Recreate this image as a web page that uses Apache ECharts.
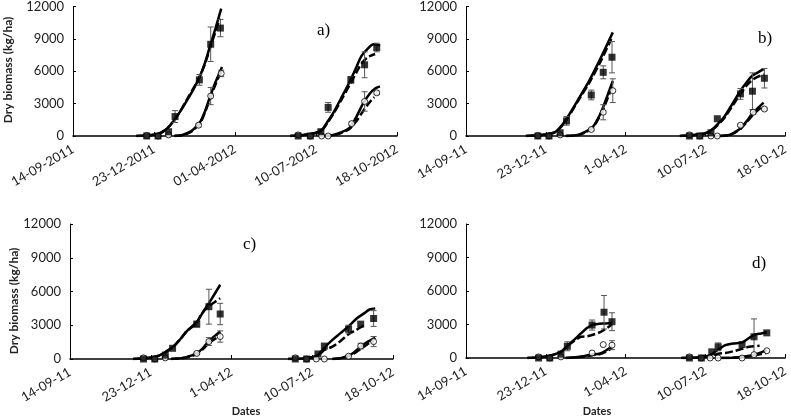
<!DOCTYPE html>
<html>
<head>
<meta charset="utf-8">
<script src="https://cdn.jsdelivr.net/npm/echarts@6/dist/echarts.min.js"></script>
<style>
  html, body { margin: 0; background: #fff; }
  #main { width: 791px; height: 417px; }
</style>
</head>
<body>
<div id="main"></div>
<script>
// x values are days counted from 14-09-2011
const tickDays = [0, 100, 200, 300, 400];
const tickLabelsLong = ["14-09-2011", "23-12-2011", "01-04-2012", "10-07-2012", "18-10-2012"];
const tickLabelsShort = ["14-09-11", "23-12-11", "1-04-12", "10-07-12", "18-10-12"];

// observed points: [day, mean, error]
const aSquares = [[91,0,0],[105,0,0],[118,400,0],[126,1800,550],[156,5200,500],[170,8500,1600],[182,10000,800],
  [278,0,0],[293,0,0],[306,400,0],[315,2650,450],[343,5200,300],[360,6600,1200],[375,8200,400]];
const aCircles = [[91,50,0],[105,0,0],[118,100,0],[155,1000,150],[170,3700,800],[183,5800,300],
  [278,100,0],[293,0,0],[307,0,0],[315,0,0],[344,1150,150],[360,3200,900],[375,4000,150]];
const bSquares = [[90,0,0],[104,0,0],[118,300,0],[126,1400,400],[157,3800,450],[172,5900,600],[183,7300,1450],
  [280,0,0],[293,0,0],[307,300,0],[315,1600,0],[344,3900,500],[359,4150,1700],[374,5350,900]];
const bCircles = [[90,50,0],[104,0,0],[118,100,0],[157,600,100],[172,2200,700],[184,4200,1100],
  [280,100,0],[293,0,0],[307,0,0],[315,0,0],[344,1000,100],[360,2200,200],[374,2500,100]];
const cSquares = [[91,0,0],[105,0,0],[118,350,0],[127,950,0],[157,3100,250],[172,4650,1550],[186,4000,950],
  [279,0,0],[293,0,0],[307,450,0],[315,1150,0],[345,2650,350],[360,3100,0],[376,3600,700]];
const cCircles = [[91,100,0],[105,0,0],[118,100,0],[157,500,100],[172,1550,350],[186,2000,500],
  [279,100,0],[293,0,0],[305,0,0],[315,0,0],[345,250,0],[360,1150,250],[376,1550,450]];
const dSquares = [[91,0,0],[105,0,0],[119,350,0],[127,1050,400],[158,2950,450],[173,4100,1500],[183,3250,800],
  [280,0,0],[295,0,0],[308,550,0],[316,1000,350],[346,1200,0],[361,1900,1600],[377,2250,0]];
const dCircles = [[91,100,0],[105,0,0],[119,100,0],[158,450,0],[172,1200,0],[183,1150,400],
  [280,100,0],[295,0,0],[306,0,0],[316,0,0],[346,0,0],[361,300,0],[377,650,0]];

// simulated curves, one array per season: [day, biomass]
const aHiSolid1 = [[78,0],[95,80],[105,200],[112,450],[120,1000],[130,2000],[140,3200],[150,4500],[157,5600],[163,6800],[169,8300],[176,10000],[183,11800]];
const aHiDash1 = [[78,0],[95,80],[105,200],[112,450],[120,1000],[130,2000],[140,3300],[150,4600],[157,5600],[163,6700],[169,8100],[176,9700],[181,10900]];
const aLoSolid1 = [[125,0],[135,100],[145,400],[150,700],[157,1300],[163,2300],[169,3600],[176,5000],[184,6400]];
const aLoDash1 = [[125,0],[135,80],[145,350],[150,650],[157,1200],[163,2200],[169,3400],[176,4800],[183,6000]];
const aHiSolid2 = [[268,0],[285,100],[298,250],[307,550],[314,1300],[321,2100],[331,3500],[342,5100],[350,6400],[356,7400],[364,8100],[371,8500],[379,8400]];
const aHiDash2 = [[268,0],[285,100],[298,250],[307,500],[314,1200],[321,2000],[331,3300],[342,4800],[350,5900],[356,6700],[364,7300],[373,7600]];
const aLoSolid2 = [[310,0],[320,80],[330,300],[342,800],[350,1800],[358,3000],[366,3900],[373,4400],[379,4600]];
const aLoDash2 = [[310,0],[320,60],[330,250],[342,700],[350,1400],[358,2300],[366,3100],[372,3600]];

const bHiSolid1 = [[75,0],[95,100],[110,300],[118,800],[126,1600],[140,3300],[155,5200],[170,7400],[184,9600]];
const bHiDash1 = [[75,0],[95,100],[110,300],[118,750],[126,1500],[140,3200],[155,5000],[170,7100],[182,9000]];
const bLoSolid1 = [[125,0],[140,100],[150,400],[159,850],[166,1700],[172,2700],[178,3900],[184,5100]];
const bLoDash1 = [[125,0],[140,80],[150,350],[159,800],[166,1600],[172,2500],[178,3600],[183,4600]];
const bHiSolid2 = [[268,0],[285,100],[300,250],[310,700],[318,1300],[324,1800],[334,3000],[344,4200],[352,5000],[359,5600],[366,5900],[373,6200]];
const bHiDash2 = [[268,0],[285,100],[300,250],[310,650],[318,1200],[324,1700],[334,2800],[344,3900],[352,4700],[359,5200],[366,5500],[374,5700]];
const bLoSolid2 = [[318,0],[330,100],[338,400],[344,700],[352,1400],[359,2100],[366,2600],[373,3100]];
const bLoDash2 = [[318,0],[330,80],[338,350],[344,650],[352,1300],[359,1900],[366,2400],[373,2800]];

const cHiSolid1 = [[78,0],[95,80],[110,300],[120,700],[128,1100],[137,1800],[145,2500],[157,3300],[165,4200],[175,5300],[186,6600]];
const cHiDash1 = [[78,0],[95,80],[110,300],[120,700],[128,1100],[137,1800],[145,2500],[157,3200],[162,3900],[170,4600],[178,5000],[186,5400]];
const cLoSolid1 = [[125,0],[140,100],[150,300],[157,500],[165,1000],[172,1600],[180,2100],[186,2450]];
const cLoDash1 = [[125,0],[140,80],[150,250],[157,450],[165,900],[172,1400],[180,1800],[186,2000]];
const cHiSolid2 = [[270,0],[290,50],[300,150],[307,350],[315,1000],[325,1700],[335,2300],[345,2900],[355,3600],[365,4100],[371,4400],[378,4500]];
const cHiDash2 = [[270,0],[290,50],[300,150],[307,300],[315,800],[325,1100],[335,1600],[345,2200],[355,2600],[364,3000]];
const cLoSolid2 = [[325,0],[335,80],[345,300],[352,600],[360,1100],[368,1500],[378,1900]];
const cLoDash2 = [[325,0],[335,60],[345,250],[352,500],[360,900],[368,1300],[376,1600]];

const dHiSolid1 = [[77,0],[95,80],[110,300],[120,600],[127,1100],[135,1600],[144,2200],[152,2700],[158,2950],[165,3050],[175,3100],[183,3150]];
const dHiDash1 = [[77,0],[95,80],[110,300],[120,600],[127,1050],[135,1500],[144,1900],[152,1950],[160,2100],[169,2350],[176,2650],[183,3000]];
const dLoSolid1 = [[125,0],[140,80],[150,200],[158,300],[168,400],[176,700],[183,1050]];
const dLoDash1 = [[125,0],[140,60],[150,150],[158,250],[168,350],[176,600],[183,900]];
const dHiSolid2 = [[270,0],[290,50],[300,150],[306,250],[315,700],[325,1150],[335,1300],[346,1400],[355,1800],[362,2100],[370,2200],[377,2300]];
const dHiDash2 = [[270,0],[290,50],[300,100],[310,250],[318,400],[325,450],[335,600],[345,800],[355,1000],[368,1100]];
const dLoSolid2 = [[320,0],[335,30],[346,100],[355,200],[362,300],[370,500],[377,700]];
const dLoDash2 = [[320,0],[335,20],[346,80],[355,150],[362,250],[370,350],[376,450]];

const panelNames = ["a)", "b)", "c)", "d)"];

const grids = [
  { left: 73, top: 5, width: 324, height: 131 },
  { left: 466, top: 5, width: 324, height: 131 },
  { left: 70, top: 224, width: 323, height: 135 },
  { left: 466, top: 224, width: 322, height: 134 },
];

const FONT = "Lato";

const xAxes = grids.map((g, i) => ({
  type: "value",
  gridIndex: i,
  min: 0,
  max: 400,
  interval: 100,
  axisLine: { show: true, lineStyle: { color: "#000", width: 1.5 } },
  axisTick: { show: true, inside: true, length: 4, lineStyle: { color: "#000" } },
  splitLine: { show: false },
  axisLabel: {
    rotate: 30,
    margin: 12,
    fontSize: 13,
    fontFamily: FONT,
    color: "#222",
    formatter: (v) => (i === 0 ? tickLabelsLong : tickLabelsShort)[tickDays.indexOf(v)],
  },
}));

const yAxes = grids.map((g, i) => ({
  type: "value",
  gridIndex: i,
  min: 0,
  max: 12000,
  interval: 3000,
  axisLine: { show: true, lineStyle: { color: "#000", width: 1 } },
  axisTick: { show: true, inside: true, length: 3, lineStyle: { color: "#000" } },
  splitLine: { show: false },
  axisLabel: { margin: 9, fontSize: 13, fontFamily: FONT, color: "#222", formatter: (v) => String(v) },
}));

const series = [];
function line(i, data, dashed) {
  series.push({
    type: "line",
    xAxisIndex: i,
    yAxisIndex: i,
    data: data,
    smooth: 0.3,
    showSymbol: false,
    silent: true,
    z: 2,
    lineStyle: { color: "#000", width: 2.5, type: dashed ? [8, 3] : "solid" },
  });
}
function errorBars(i, data) {
  series.push({
    type: "custom",
    xAxisIndex: i,
    yAxisIndex: i,
    data: data,
    z: 3,
    encode: { x: 0, y: 1 },
    renderItem: function (params, api) {
      const x = api.value(0), v = api.value(1), e = api.value(2);
      if (!e) return;
      const top = api.coord([x, v + e]);
      const bot = api.coord([x, v - e]);
      const st = { stroke: "#555", lineWidth: 1 };
      return {
        type: "group",
        children: [
          { type: "line", shape: { x1: top[0], y1: top[1], x2: bot[0], y2: bot[1] }, style: st },
          { type: "line", shape: { x1: top[0] - 3, y1: top[1], x2: top[0] + 3, y2: top[1] }, style: st },
          { type: "line", shape: { x1: bot[0] - 3, y1: bot[1], x2: bot[0] + 3, y2: bot[1] }, style: st },
        ],
      };
    },
  });
}
function points(i, squares, circles) {
  errorBars(i, squares);
  errorBars(i, circles);
  series.push({
    type: "scatter", xAxisIndex: i, yAxisIndex: i, z: 4,
    data: circles.map((p) => [p[0], p[1]]),
    symbol: "circle", symbolSize: 6,
    itemStyle: { color: "#fff", borderColor: "#000", borderWidth: 1 },
  });
  series.push({
    type: "scatter", xAxisIndex: i, yAxisIndex: i, z: 5,
    data: squares.map((p) => [p[0], p[1]]),
    symbol: "rect", symbolSize: 7,
    itemStyle: { color: "#000" },
  });
}

[[aHiSolid1, aHiSolid2, aLoSolid1, aLoSolid2], [bHiSolid1, bHiSolid2, bLoSolid1, bLoSolid2],
 [cHiSolid1, cHiSolid2, cLoSolid1, cLoSolid2], [dHiSolid1, dHiSolid2, dLoSolid1, dLoSolid2]]
  .forEach((arr, i) => arr.forEach((d) => line(i, d, false)));
[[aHiDash1, aHiDash2, aLoDash1, aLoDash2], [bHiDash1, bHiDash2, bLoDash1, bLoDash2],
 [cHiDash1, cHiDash2, cLoDash1, cLoDash2], [dHiDash1, dHiDash2, dLoDash1, dLoDash2]]
  .forEach((arr, i) => arr.forEach((d) => line(i, d, true)));
points(0, aSquares, aCircles);
points(1, bSquares, bCircles);
points(2, cSquares, cCircles);
points(3, dSquares, dCircles);

const labelPos = [[317, 22], [758, 30], [243, 236], [752, 255]];
const graphics = panelNames.map((t, i) => ({
  type: "text",
  left: labelPos[i][0],
  top: labelPos[i][1],
  style: { text: t, font: "17px 'Liberation Serif'", fill: "#000" },
}));
// axis titles placed where the original figure has them
[[8, 70], [14, 301]].forEach((p) => graphics.push({
  type: "text", x: p[0], y: p[1], rotation: Math.PI / 2,
  style: { text: "Dry biomass (kg/ha)", font: "bold 12px Lato", fill: "#222", align: "center", verticalAlign: "middle" },
}));
[[246, 411], [597, 411]].forEach((p) => graphics.push({
  type: "text", x: p[0], y: p[1],
  style: { text: "Dates", font: "bold 11px Lato", fill: "#222", align: "center", verticalAlign: "middle" },
}));

const chart = echarts.init(document.getElementById("main"));
chart.setOption({
  animation: false,
  backgroundColor: "#fff",
  grid: grids,
  xAxis: xAxes,
  yAxis: yAxes,
  series: series,
  graphic: graphics,
});
</script>
</body>
</html>
